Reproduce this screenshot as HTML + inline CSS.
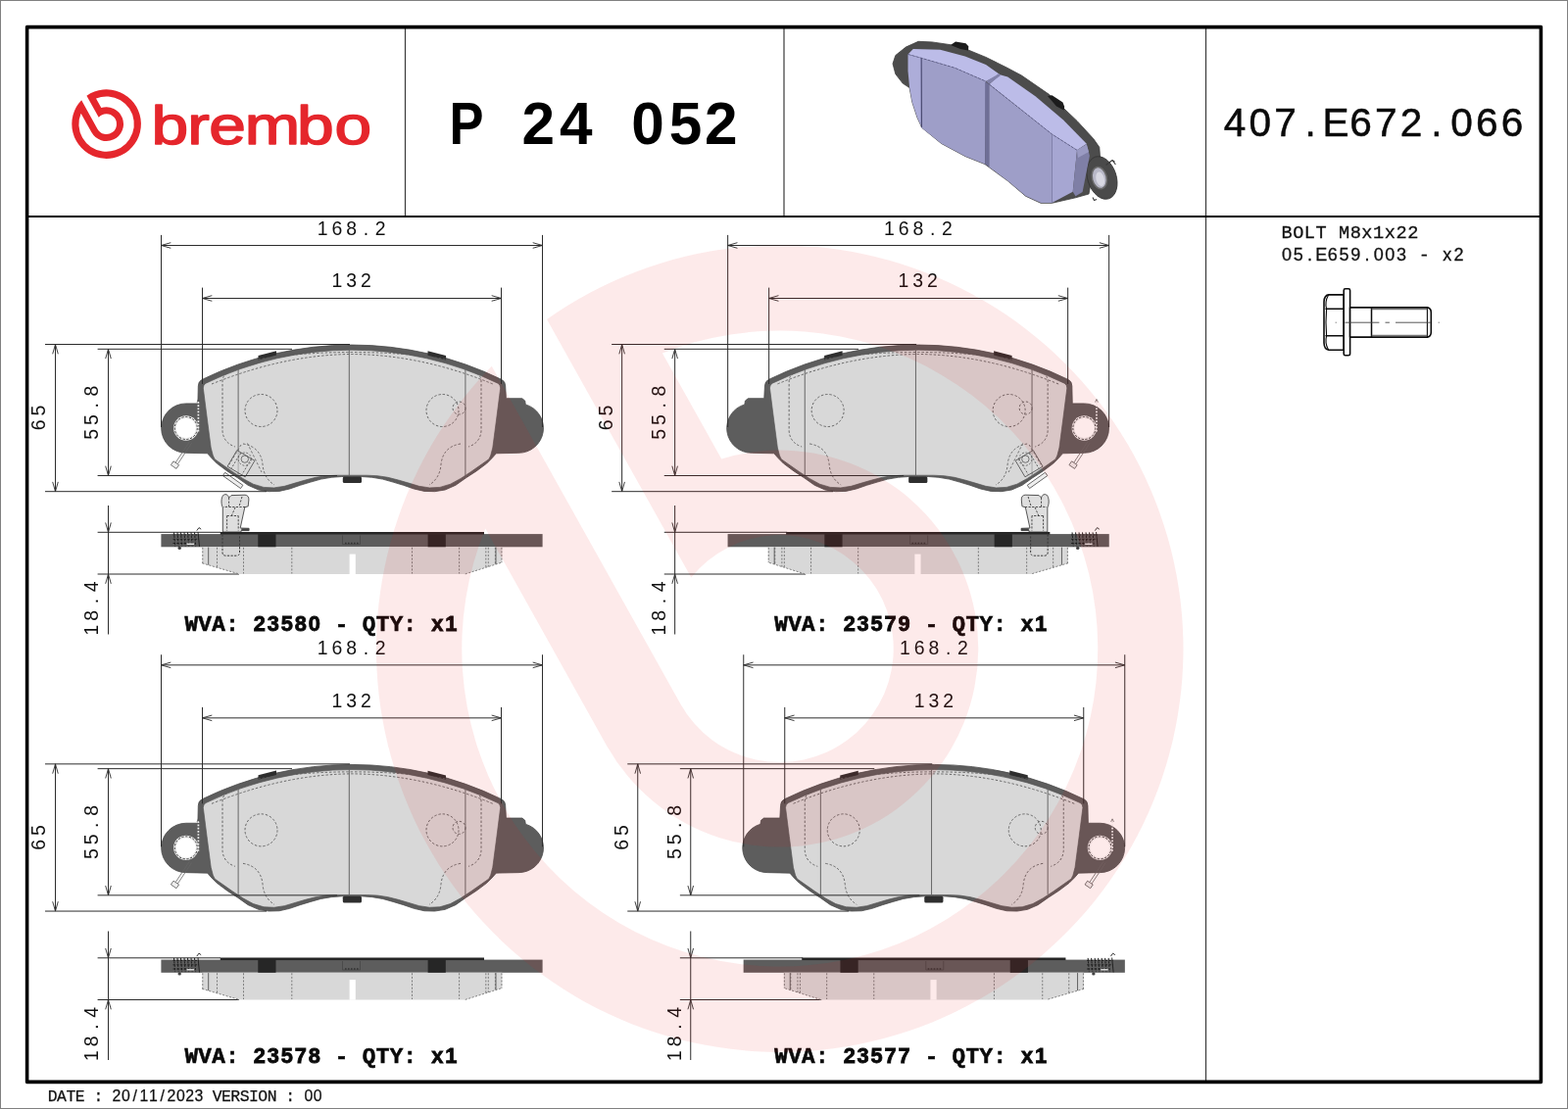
<!DOCTYPE html><html><head><meta charset="utf-8"><title>brembo P 24 052</title>
<style>html,body{margin:0;padding:0;background:#fff}svg{display:block}text{white-space:pre}</style></head><body>
<svg width="1600" height="1132" viewBox="0 0 1600 1132">
<rect x="0" y="0" width="1600" height="1132" fill="#fff"/>
<g id="hdr">
<path d="M83.15 102.14 A35.30 35.30 0 1 0 88.43 97.63 L100.72 119.81 A10.40 10.40 0 1 1 99.50 131.64 Z M82.62 115.63 A28.20 28.20 0 1 0 98.00 100.47 L103.30 110.03 A17.40 17.40 0 1 1 93.38 135.04 Z" fill="#e5262c" fill-rule="evenodd"/>
<text transform="translate(0 147) scale(1.22 1)" x="126.7 156.7 174.8 204.8 248.4 280" y="0" style="font-family:'Liberation Sans', 'DejaVu Sans', sans-serif;font-size:55.5px" fill="#e5262c" stroke="#e5262c" stroke-width="1.5" stroke-linejoin="round">brembo</text>
<text transform="translate(458.4 147.2) scale(0.87 1)" x="0" y="0" style="font-family:'Liberation Sans', 'DejaVu Sans', sans-serif;font-size:60.3px;font-weight:bold" fill="#000">P</text>
<text x="532.6 570.9 608 644.2 682.7 719.1" y="147.2" style="font-family:'Liberation Sans', 'DejaVu Sans', sans-serif;font-size:60.3px;font-weight:bold" fill="#000">24 052</text>
<text y="139.00" fill="#0a0a0a" stroke="#0a0a0a" stroke-width="0.5"><tspan x="1248.77 1274.49 1300.21 1331.58 1349.40 1377.37 1403.09 1428.81 1460.18 1480.25 1505.97 1531.69" style="font-family:'Liberation Sans', 'DejaVu Sans', sans-serif;font-size:40.60px;">407.E672.066</tspan></text>
<text y="243.10" fill="#111" stroke="#111" stroke-width="0.3"><tspan x="1307.47 1319.17 1330.87 1342.57 1354.27 1365.97 1377.67 1389.37 1401.07 1412.77 1424.47 1436.17" style="font-family:'Liberation Mono', 'DejaVu Sans Mono', monospace;font-size:18.60px;">BOLT M8x1x22</tspan></text>
<text y="266.30" fill="#111" stroke="#111" stroke-width="0.3"><tspan x="1308.04 1319.74 1333.95 1342.15 1354.84 1366.54 1378.24 1392.45 1401.64 1413.34 1425.04 1436.17" style="font-family:'Liberation Sans', 'DejaVu Sans', sans-serif;font-size:18.00px;">05.E659.003 </tspan><tspan x="1447.87 1459.57" style="font-family:'Liberation Mono', 'DejaVu Sans Mono', monospace;font-size:18.60px;">- </tspan><tspan x="1472.35 1483.54" style="font-family:'Liberation Sans', 'DejaVu Sans', sans-serif;font-size:18.00px;">x2</tspan></text>
<text y="1123.80" fill="#111" stroke="#111" stroke-width="0.25"><tspan x="48.74 58.07 67.40 76.73 86.06 95.39 104.72" style="font-family:'Liberation Mono', 'DejaVu Sans Mono', monospace;font-size:16.40px;">DATE : </tspan><tspan x="114.58 123.91 135.44 142.57 151.90 163.43 170.56 179.89 189.22 198.55 207.35" style="font-family:'Liberation Sans', 'DejaVu Sans', sans-serif;font-size:15.80px;">20/11/2023 </tspan><tspan x="216.68 226.01 235.34 244.67 254.00 263.33 272.66 281.99 291.32 300.65" style="font-family:'Liberation Mono', 'DejaVu Sans Mono', monospace;font-size:16.40px;">VERSION : </tspan><tspan x="310.51 319.84" style="font-family:'Liberation Sans', 'DejaVu Sans', sans-serif;font-size:15.80px;">00</tspan></text>
</g>
<g id="pad3d" stroke-linejoin="round">
<!-- back plate -->
<path d="M937.1 42.3 L951 42.9 L970 45.7 L988 51 L1006 58.4 L1027.3 69 L1042.4 77 L1070.7 96.5 L1099 123.4 L1115.9 141.8 L1121.8 150.3 L1122.5 160 L1117.5 163 L1111 198 L1097.5 201.8 L1073.5 207.3 L1062 207.3 L1046.6 200.2 L1028.3 184.6 L1005 167.6 L985 159.6 L960.6 146.5 L940.9 130.5 L936 120 L930.8 104.2 L928.1 89.6 L921.2 85.1 L913.8 75.6 L911 65 L913.8 56.5 L924.4 48 Z" fill="#4c4c4c" stroke="#3d3d3d" stroke-width="0.8"/>
<!-- clips -->
<path d="M970 46 L975 42.6 L985.5 44.2 L988.3 47.2 L988 51.6 L980 50 Z" fill="#1c1c1c"/>
<path d="M1069 98 L1073.5 97.3 L1084.5 104.5 L1086.2 109 L1085.6 112.6 L1078 108.5 Z" fill="#1c1c1c"/>
<!-- ear ring -->
<ellipse cx="1124.5" cy="181.5" rx="14.6" ry="22.4" transform="rotate(-18 1124.5 181.5)" fill="#4a4a4a" stroke="#333" stroke-width="0.8"/>
<ellipse cx="1121.8" cy="181.6" rx="7.4" ry="11.2" transform="rotate(-14 1121.8 181.6)" fill="#b9b9c8" stroke="#6a6a6a" stroke-width="1.6"/>
<ellipse cx="1122.6" cy="182.8" rx="4.2" ry="7.4" transform="rotate(-14 1122.6 182.6)" fill="#d8d8e2"/>
<path d="M1128.5 168.5 L1135 163.5 L1137.5 165.2 M1135 163.5 L1138.4 168 M1115 201.5 L1116.5 204.5 L1119 203.4" fill="none" stroke="#3a3a3a" stroke-width="1.1"/>
<!-- top faces -->
<path d="M926.5 55.4 L931.8 50.1 L959.4 50.7 L984.8 57.6 L1006 66 L1020.4 76.2 L1006 83 L974.2 69.2 L940.1 59.2 Z" fill="#bcbce8"/>
<path d="M1009.5 86 L1020.4 76.2 L1028.3 78.4 L1056.5 98.2 L1084.8 122.2 L1108.8 146.8 L1099 153.3 L1073.5 137 Z" fill="#bcbce8"/>
<!-- left chamfer face -->
<path d="M926.5 55.4 L940.1 59.2 L940.1 129 L936 120 L930.8 104.2 L928.1 89.4 L926.5 72.4 Z" fill="#adadd9"/>
<!-- front faces -->
<path d="M940.1 59.2 L974.2 69.2 L1006 83 L1005.2 167.6 L985 159.6 L960.6 146.5 L940.5 130.4 Z" fill="#9e9ec8"/>
<path d="M1009.2 86 L1073.5 137 L1073.5 207 L1062.2 207 L1046.6 200 L1028.3 184.4 L1009.2 170.4 Z" fill="#9e9ec8"/>
<!-- groove -->
<path d="M1005.2 83.2 L1009.4 86 L1009.4 170.4 L1005.2 167.6 Z" fill="#6f6f96"/>
<path d="M1006 83 L1019 75.3 L1021 77 L1009.4 85.8 Z" fill="#8282aa"/>
<!-- right chamfer + side -->
<path d="M1073.5 137 L1099 153.3 L1094.7 195.7 L1073.5 207 Z" fill="#a6a6d2"/>
<path d="M1099 153.3 L1108.8 147.2 L1111.9 159 L1104.6 195.9 L1097.5 200.2 L1094.7 195.7 Z" fill="#7f7fa6"/>
<path d="M1099 153.3 L1108.8 147.2 L1111 155 L1100 161 Z" fill="#9a9ac2"/>
<!-- edges -->
<path d="M940.1 59.2 L940.3 130" fill="none" stroke="#3c3c66" stroke-width="1"/>
<path d="M926.5 55.4 L940.1 59.2 L974.2 69.2 L1006 83 M1009.4 86 L1073.5 137 L1099 153.3" fill="none" stroke="#4c4c78" stroke-width="0.7" stroke-dasharray="3 1.2"/>
<path d="M1073.5 137 L1073.5 207" fill="none" stroke="#7c7ca8" stroke-width="0.7"/>
</g>

<g id="bolt" fill="#fff" stroke="#0c0c0c" stroke-width="1.6" stroke-linejoin="round" stroke-linecap="round">
<path d="M1351 308 Q1351.3 301.2 1356 300.9 L1371.2 300.9 L1371.2 357.2 L1356 357.2 Q1351.3 356.9 1351 350 Z"/>
<path d="M1353 315.2 L1371.2 315.2 M1353 342.8 L1371.2 342.8" fill="none" stroke-width="1.5"/>
<path d="M1355.5 301.2 Q1351.6 308 1353.6 315.2 Q1352.4 329 1353.6 342.8 Q1351.6 350 1355.5 356.9" fill="none" stroke-width="1.1"/>
<rect x="1371.2" y="294.8" width="6.4" height="68" rx="1.6"/>
<path d="M1377.6 313.9 L1456.6 313.9 Q1460.3 314.6 1460.3 319 L1460.3 339 Q1460.3 343.4 1456.6 344.1 L1377.6 344.1 Z"/>
<path d="M1399.5 313.9 L1399.5 344.1" fill="none" stroke-width="1.5"/>
<path d="M1456.4 314.4 L1456.4 343.6" fill="none" stroke-width="1.1"/>
<path d="M1400 315.7 L1456 315.7 M1400 342.3 L1456 342.3" fill="none" stroke="#555" stroke-width="1"/>
<path d="M1362.7 329.2 L1363.7 329.2 M1372.4 329.2 L1407.4 329.2 M1413.5 329.2 L1417.9 329.2 M1424 329.2 L1459.9 329.2 M1467.7 329.2 L1468.7 329.2" fill="none" stroke="#444" stroke-width="0.9" stroke-linecap="butt"/>
</g>
<g transform="translate(0.00 0.00)"><path d="M202.3 394 Q202.3 389.3 206.2 387.4 A348 348 0 0 1 511.80 387.4 Q515.70 389.3 515.70 394 L516.4 406.7 L532.8 406.7 L535.7 409 L536.3 412.9 A25.2 25.2 0 0 1 528.9 462.3 L506.30 462.80 L502.10 467.60 L496.70 473.00 L486.10 480.90 L475.50 487.80 L464.90 495.30 L454.20 500.00 L443.60 501.70 L433.00 501.40 L422.40 499.00 L411.70 495.30 L401.10 492.10 L390.50 489.10 L379.80 487.30 L369.20 486.50 L359.00 486.40 L359.00 486.40 L348.80 486.50 L338.20 487.30 L327.50 489.10 L316.90 492.10 L306.30 495.30 L295.60 499.00 L285.00 501.40 L274.40 501.70 L263.80 500.00 L253.10 495.30 L242.50 487.80 L231.90 480.90 L221.30 473.00 L215.90 467.60 L211.70 462.80 L189.8 462.3 A25.2 25.2 0 0 1 189.8 411.9 L201.9 411.9 Z" fill="#5d5d5d" stroke="#4a4a4a" stroke-width="0.8"/><path d="M263.5 363.0 L282.0 358.2 L282.0 362.6 L263.5 367.4 Z" fill="#2e2e2e"/><path d="M436.5 358.3 L455.0 363.1 L455.0 367.5 L436.5 362.7 Z" fill="#2e2e2e"/><rect x="349.8" y="486.5" width="19.2" height="6.6" rx="1.5" fill="#2e2e2e"/><path d="M207.3 396 Q207.3 392.6 210 391.2 A343.5 343.5 0 0 1 508.00 391.2 Q510.70 392.6 510.70 396 L507.00 425.00 L502.80 457.00 L500.70 465.00 L498.90 468.70 L491.40 474.00 L480.80 481.40 L470.20 488.40 L459.60 494.20 L448.90 497.40 L438.30 497.90 L427.70 496.30 L417.00 493.10 L406.40 490.00 L395.80 487.30 L385.20 485.70 L374.50 485.20 L359.00 485.20 L359.00 485.20 L343.50 485.20 L332.80 485.70 L322.20 487.30 L311.60 490.00 L301.00 493.10 L290.30 496.30 L279.70 497.90 L269.10 497.40 L258.40 494.20 L247.80 488.40 L237.20 481.40 L226.60 474.00 L219.10 468.70 L217.30 465.00 L215.20 457.00 L211.00 425.00 Z" fill="#d8d8d8" stroke="#555" stroke-width="0.7"/><circle cx="189.8" cy="437" r="12.7" fill="#e9e9e9"/><circle cx="189.8" cy="437" r="10.1" fill="#fff"/><circle cx="189.8" cy="437" r="11.5" fill="none" stroke="#3c3c3c" stroke-width="1" stroke-dasharray="2.2 1.6"/><line x1="243.1" y1="376.0" x2="243.1" y2="484.5" stroke="#666" stroke-width="1.0"/><line x1="474.9" y1="376.0" x2="474.9" y2="485.5" stroke="#666" stroke-width="1.0"/><circle cx="266.5" cy="419" r="16.5" fill="none" stroke="#5a5a5a" stroke-width="0.9" stroke-dasharray="2.4 1.9"/><circle cx="451.5" cy="419" r="16.5" fill="none" stroke="#5a5a5a" stroke-width="0.9" stroke-dasharray="2.4 1.9"/><path d="M232 381 Q227 383 227 390 L227 440 Q228 452 240 456" fill="none" stroke="#5a5a5a" stroke-width="0.9" stroke-dasharray="2.4 1.9"/><path d="M486.0 381 Q491.0 383 491.0 390 L491.0 440 Q490.0 452 478.0 456" fill="none" stroke="#5a5a5a" stroke-width="0.9" stroke-dasharray="2.4 1.9"/><path d="M216 392 Q290 362 359 361.5 Q430 362 503 392" fill="none" stroke="#5a5a5a" stroke-width="0.9" stroke-dasharray="2.4 1.9"/><path d="M262 371 L264 366.5 Q310 359.5 359 359.5 Q410 359.5 455 366.5 L457 371" fill="none" stroke="#5a5a5a" stroke-width="0.9" stroke-dasharray="2.4 1.9"/><path d="M470 453 Q452 456 450 474 Q449 488 438 495" fill="none" stroke="#5a5a5a" stroke-width="0.9" stroke-dasharray="2.4 1.9"/><path d="M248 453 Q266 456 268 474 Q269 488 280 495" fill="none" stroke="#5a5a5a" stroke-width="0.9" stroke-dasharray="2.4 1.9"/><g transform="translate(246 473.2) rotate(30.5)"><rect x="-10.5" y="-9.6" width="21" height="19.2" fill="#dcdcdc" fill-opacity="0.55" stroke="#555" stroke-width="0.8"/><path d="M-6 -9.6 L-6 9.6 M6.5 -9.6 L6.5 9.6" fill="none" stroke="#555" stroke-width="0.8" stroke-dasharray="2 1.6"/></g><circle cx="249.8" cy="468.6" r="3.7" fill="none" stroke="#555" stroke-width="0.8"/><circle cx="249.8" cy="468.6" r="6.6" fill="none" stroke="#555" stroke-width="0.8" stroke-dasharray="2 1.6"/><g transform="translate(237.6 490.4) rotate(35.5)"><rect x="-11.2" y="-2" width="22.4" height="4" fill="#eee" stroke="#555" stroke-width="0.8"/></g><path d="M252.5 452.5 L267 482 M246 454 L234 474" fill="none" stroke="#555" stroke-width="0.8" stroke-dasharray="2.4 2"/><circle cx="468.5" cy="416.5" r="6.5" fill="none" stroke="#5a5a5a" stroke-width="0.9" stroke-dasharray="2.4 1.9"/><g transform="translate(189.80 437.00)"><path d="M3.6 13.8 L-10.6 35.2 M5.8 15.2 L-8.4 36.6" stroke="#666" stroke-width="0.8" fill="none"/><path d="M-12.8 33.8 L-7.2 37.6 L-9.8 41.4 L-15.4 37.6 Z" fill="#eee" stroke="#555" stroke-width="0.8"/><path d="M12.6 -27 L12.6 4" stroke="#f0f0f0" stroke-width="1.7" stroke-dasharray="1.7 1.5" fill="none"/><path d="M11.2 -26.5 L12.6 -29.5 L14 -26.5" stroke="#555" stroke-width="0.7" fill="none"/></g><line x1="356.30" y1="356.50" x2="356.30" y2="485.30" stroke="#666" stroke-width="1.00"/><line x1="164.50" y1="239.90" x2="164.50" y2="436.00" stroke="#2c2c2c" stroke-width="1.00"/><line x1="553.50" y1="239.90" x2="553.50" y2="436.00" stroke="#2c2c2c" stroke-width="1.00"/><line x1="164.50" y1="250.50" x2="553.50" y2="250.50" stroke="#2c2c2c" stroke-width="1.00"/><path transform="translate(164.50 250.50) rotate(180.0)" d="M-9.8 -2.8 L0 0 L-9.8 2.8" fill="none" stroke="#2c2c2c" stroke-width="0.9"/><path transform="translate(553.50 250.50) rotate(0.0)" d="M-9.8 -2.8 L0 0 L-9.8 2.8" fill="none" stroke="#2c2c2c" stroke-width="0.9"/><text y="240.00" fill="#111" ><tspan x="323.80 338.55 353.30 370.76 382.80" style="font-family:'Liberation Sans', 'DejaVu Sans', sans-serif;font-size:19.40px;">168.2</tspan></text><line x1="206.50" y1="293.60" x2="206.50" y2="392.00" stroke="#2c2c2c" stroke-width="1.00"/><line x1="511.50" y1="293.60" x2="511.50" y2="392.00" stroke="#2c2c2c" stroke-width="1.00"/><line x1="206.50" y1="304.50" x2="511.50" y2="304.50" stroke="#2c2c2c" stroke-width="1.00"/><path transform="translate(206.50 304.50) rotate(180.0)" d="M-9.8 -2.8 L0 0 L-9.8 2.8" fill="none" stroke="#2c2c2c" stroke-width="0.9"/><path transform="translate(511.50 304.50) rotate(0.0)" d="M-9.8 -2.8 L0 0 L-9.8 2.8" fill="none" stroke="#2c2c2c" stroke-width="0.9"/><text y="293.40" fill="#111" ><tspan x="338.45 353.20 367.95" style="font-family:'Liberation Sans', 'DejaVu Sans', sans-serif;font-size:19.40px;">132</tspan></text><line x1="46.00" y1="351.50" x2="357.00" y2="351.50" stroke="#2c2c2c" stroke-width="1.00"/><line x1="46.00" y1="501.70" x2="272.00" y2="501.70" stroke="#2c2c2c" stroke-width="1.00"/><line x1="56.50" y1="351.50" x2="56.50" y2="501.70" stroke="#2c2c2c" stroke-width="1.00"/><path transform="translate(56.50 351.50) rotate(-90.0)" d="M-9.8 -2.8 L0 0 L-9.8 2.8" fill="none" stroke="#2c2c2c" stroke-width="0.9"/><path transform="translate(56.50 501.70) rotate(90.0)" d="M-9.8 -2.8 L0 0 L-9.8 2.8" fill="none" stroke="#2c2c2c" stroke-width="0.9"/><text y="0.00" fill="#111" transform="translate(46.40 424.60) rotate(-90)" ><tspan x="-14.77 -0.02" style="font-family:'Liberation Sans', 'DejaVu Sans', sans-serif;font-size:19.40px;">65</tspan></text><line x1="99.60" y1="356.30" x2="298.00" y2="356.30" stroke="#2c2c2c" stroke-width="1.00"/><line x1="99.60" y1="485.50" x2="344.00" y2="485.50" stroke="#2c2c2c" stroke-width="1.00"/><line x1="110.50" y1="356.30" x2="110.50" y2="485.50" stroke="#2c2c2c" stroke-width="1.00"/><path transform="translate(110.50 356.30) rotate(-90.0)" d="M-9.8 -2.8 L0 0 L-9.8 2.8" fill="none" stroke="#2c2c2c" stroke-width="0.9"/><path transform="translate(110.50 485.50) rotate(90.0)" d="M-9.8 -2.8 L0 0 L-9.8 2.8" fill="none" stroke="#2c2c2c" stroke-width="0.9"/><text y="0.00" fill="#111" transform="translate(100.40 419.20) rotate(-90)" ><tspan x="-29.52 -14.77 2.68 14.73" style="font-family:'Liberation Sans', 'DejaVu Sans', sans-serif;font-size:19.40px;">55.8</tspan></text></g><g transform="translate(0.00 0.00)"><line x1="99.60" y1="543.30" x2="225.00" y2="543.30" stroke="#2c2c2c" stroke-width="1.00"/><line x1="99.60" y1="586.00" x2="244.00" y2="586.00" stroke="#2c2c2c" stroke-width="1.00"/><line x1="110.50" y1="516.00" x2="110.50" y2="647.50" stroke="#2c2c2c" stroke-width="1.00"/><path transform="translate(110.50 543.30) rotate(90.0)" d="M-9.8 -2.8 L0 0 L-9.8 2.8" fill="none" stroke="#2c2c2c" stroke-width="0.9"/><path transform="translate(110.50 586.00) rotate(-90.0)" d="M-9.8 -2.8 L0 0 L-9.8 2.8" fill="none" stroke="#2c2c2c" stroke-width="0.9"/><text y="0.00" fill="#111" transform="translate(100.40 619.00) rotate(-90)" ><tspan x="-29.52 -14.77 2.68 14.73" style="font-family:'Liberation Sans', 'DejaVu Sans', sans-serif;font-size:19.40px;">18.4</tspan></text><path d="M227.3 543 L227.3 518 C225 514 225.6 504.6 229.8 504.6 C232 504.6 233 506 233.6 508 L236 505.6 L250 505.2 Q254 505.6 253.9 510 L253.2 516.8 L249.8 517.8 L245.2 539 L254 539.3 L254 541.6 L246 541.6 L246 543 Z" fill="#dedede" stroke="#444" stroke-width="0.9" stroke-linejoin="round"/><path d="M233.6 508 L233.6 517.2 L228 517.6 M233.6 517.5 L250 517.5 M231.6 526.5 L243.2 526.5 M243.2 526.5 L243.2 541.5 M231.6 526.5 L231.6 541.5 M247 507 L244 517 M240 518 L236.5 526" fill="none" stroke="#3a3a3a" stroke-width="0.9" stroke-dasharray="2.2 1.4"/><rect x="246.3" y="539.3" width="7.9" height="2.4" fill="#444"/><rect x="164.4" y="545.1" width="389.2" height="13.2" fill="#5d5d5d"/><rect x="224.8" y="543" width="269.2" height="2.6" fill="#262626"/><path d="M206.4 558.3 L206.4 574.9 L244 585.9 L474.8 585.9 L512.4 574 L512.4 558.3 Z" fill="#d8d8d8"/><rect x="356.6" y="565.6" width="6.2" height="20.6" fill="#fff"/><path d="M227 545.5 L227 564 Q227 567.2 230.5 567.2 L241 567.2 Q244.5 567.2 244.5 564 L244.5 545.5" fill="none" stroke="#3a3a3a" stroke-width="1" stroke-dasharray="2.2 1.4"/><rect x="263.3" y="545.1" width="18.2" height="13.2" fill="#262626"/><rect x="436.6" y="545.1" width="18.2" height="13.2" fill="#262626"/><line x1="206.8" y1="558.8" x2="206.8" y2="575.0" stroke="#666" stroke-width="0.8" stroke-dasharray="2 1.6" fill="none"/><line x1="221.5" y1="558.8" x2="221.5" y2="579.2" stroke="#666" stroke-width="0.8" stroke-dasharray="2 1.6" fill="none"/><line x1="248.5" y1="558.8" x2="248.5" y2="585.5" stroke="#666" stroke-width="0.8" stroke-dasharray="2 1.6" fill="none"/><line x1="297.8" y1="558.8" x2="297.8" y2="585.5" stroke="#666" stroke-width="0.8" stroke-dasharray="2 1.6" fill="none"/><line x1="420.5" y1="558.8" x2="420.5" y2="585.5" stroke="#666" stroke-width="0.8" stroke-dasharray="2 1.6" fill="none"/><line x1="468.6" y1="558.8" x2="468.6" y2="585.5" stroke="#666" stroke-width="0.8" stroke-dasharray="2 1.6" fill="none"/><line x1="495.8" y1="558.8" x2="495.8" y2="579.2" stroke="#666" stroke-width="0.8" stroke-dasharray="2 1.6" fill="none"/><line x1="498.3" y1="558.8" x2="498.3" y2="578.5" stroke="#666" stroke-width="0.8" stroke-dasharray="2 1.6" fill="none"/><line x1="505.4" y1="558.8" x2="505.4" y2="576.3" stroke="#666" stroke-width="0.8" stroke-dasharray="2 1.6" fill="none"/><line x1="511.9" y1="558.8" x2="511.9" y2="574.2" stroke="#666" stroke-width="0.8" stroke-dasharray="2 1.6" fill="none"/><path d="M206.4 574.9 L244 585.9 M474.8 585.9 L512.4 574" stroke="#666" stroke-width="0.8" stroke-dasharray="2 1.6" fill="none"/><path d="M212.7 558.6 L212.7 576.6 M506 558.6 L506 576" stroke="#555" stroke-width="0.9" fill="none"/><path d="M349.5 546.5 L349.5 555.5 L367.5 555.5 L367.5 546.5" fill="none" stroke="#444" stroke-width="0.7"/><path d="M352 554.5 L366 554.5" stroke="#333" stroke-width="1.4" stroke-dasharray="1.6 1.4"/><g transform="translate(0.00 0)"><g stroke="#1c1c1c" stroke-width="1" fill="none"><path d="M177.5 543.4 L178.7 557.6" stroke-dasharray="2.2 1.2"/><path d="M181.0 543.4 L182.2 557.6" stroke-dasharray="2.2 1.2"/><path d="M184.5 543.4 L185.7 557.6" stroke-dasharray="2.2 1.2"/><path d="M188.0 543.4 L189.2 557.6" stroke-dasharray="2.2 1.2"/><path d="M191.5 543.4 L192.7 557.6" stroke-dasharray="2.2 1.2"/><path d="M195.0 543.4 L196.2 557.6" stroke-dasharray="2.2 1.2"/><path d="M198.5 543.4 L199.7 557.6" stroke-dasharray="2.2 1.2"/><path d="M176.5 546 L203 546 M176.5 550.3 L203 550.3 M176.5 554.5 L190 554.5" stroke-dasharray="2.4 1.3" stroke-width="0.9"/><circle cx="183.2" cy="559.4" r="1.7" fill="#444" stroke="none"/><path d="M200.8 541.6 L203 538.6 L205.2 540.2 M202 543 L203.5 558" stroke-width="0.9"/></g><path d="M190.6 555.3 L198 555.3" stroke="#e4e4e4" stroke-width="1.4" fill="none"/></g></g><text y="643.60" fill="#0a0a0a" ><tspan x="188.39 202.34 216.29 230.24 244.19" stroke="#0a0a0a" stroke-width="0.60" style="font-family:'Liberation Mono', 'DejaVu Sans Mono', monospace;font-size:22.60px;font-weight:bold;">WVA: </tspan><tspan x="258.86 272.81 286.76 300.71 314.66 327.89" stroke="#0a0a0a" stroke-width="0.80" style="font-family:'Liberation Sans', 'DejaVu Sans', sans-serif;font-size:21.80px;font-weight:bold;">23580 </tspan><tspan x="341.84 355.79 369.74 383.69 397.64 411.59 425.54" stroke="#0a0a0a" stroke-width="0.60" style="font-family:'Liberation Mono', 'DejaVu Sans Mono', monospace;font-size:22.60px;font-weight:bold;">- QTY: </tspan><tspan x="440.21 454.16" stroke="#0a0a0a" stroke-width="0.80" style="font-family:'Liberation Sans', 'DejaVu Sans', sans-serif;font-size:21.80px;font-weight:bold;">x1</tspan></text>
<g transform="translate(578.15 0.00)"><g transform="translate(718.00 0) scale(-1 1)"><path d="M202.3 394 Q202.3 389.3 206.2 387.4 A348 348 0 0 1 511.80 387.4 Q515.70 389.3 515.70 394 L516.4 406.7 L532.8 406.7 L535.7 409 L536.3 412.9 A25.2 25.2 0 0 1 528.9 462.3 L506.30 462.80 L502.10 467.60 L496.70 473.00 L486.10 480.90 L475.50 487.80 L464.90 495.30 L454.20 500.00 L443.60 501.70 L433.00 501.40 L422.40 499.00 L411.70 495.30 L401.10 492.10 L390.50 489.10 L379.80 487.30 L369.20 486.50 L359.00 486.40 L359.00 486.40 L348.80 486.50 L338.20 487.30 L327.50 489.10 L316.90 492.10 L306.30 495.30 L295.60 499.00 L285.00 501.40 L274.40 501.70 L263.80 500.00 L253.10 495.30 L242.50 487.80 L231.90 480.90 L221.30 473.00 L215.90 467.60 L211.70 462.80 L189.8 462.3 A25.2 25.2 0 0 1 189.8 411.9 L201.9 411.9 Z" fill="#5d5d5d" stroke="#4a4a4a" stroke-width="0.8"/><path d="M263.5 363.0 L282.0 358.2 L282.0 362.6 L263.5 367.4 Z" fill="#2e2e2e"/><path d="M436.5 358.3 L455.0 363.1 L455.0 367.5 L436.5 362.7 Z" fill="#2e2e2e"/><rect x="349.8" y="486.5" width="19.2" height="6.6" rx="1.5" fill="#2e2e2e"/><path d="M207.3 396 Q207.3 392.6 210 391.2 A343.5 343.5 0 0 1 508.00 391.2 Q510.70 392.6 510.70 396 L507.00 425.00 L502.80 457.00 L500.70 465.00 L498.90 468.70 L491.40 474.00 L480.80 481.40 L470.20 488.40 L459.60 494.20 L448.90 497.40 L438.30 497.90 L427.70 496.30 L417.00 493.10 L406.40 490.00 L395.80 487.30 L385.20 485.70 L374.50 485.20 L359.00 485.20 L359.00 485.20 L343.50 485.20 L332.80 485.70 L322.20 487.30 L311.60 490.00 L301.00 493.10 L290.30 496.30 L279.70 497.90 L269.10 497.40 L258.40 494.20 L247.80 488.40 L237.20 481.40 L226.60 474.00 L219.10 468.70 L217.30 465.00 L215.20 457.00 L211.00 425.00 Z" fill="#d8d8d8" stroke="#555" stroke-width="0.7"/><circle cx="189.8" cy="437" r="12.7" fill="#e9e9e9"/><circle cx="189.8" cy="437" r="10.1" fill="#fff"/><circle cx="189.8" cy="437" r="11.5" fill="none" stroke="#3c3c3c" stroke-width="1" stroke-dasharray="2.2 1.6"/><line x1="243.1" y1="376.0" x2="243.1" y2="484.5" stroke="#666" stroke-width="1.0"/><line x1="474.9" y1="376.0" x2="474.9" y2="485.5" stroke="#666" stroke-width="1.0"/><circle cx="266.5" cy="419" r="16.5" fill="none" stroke="#5a5a5a" stroke-width="0.9" stroke-dasharray="2.4 1.9"/><circle cx="451.5" cy="419" r="16.5" fill="none" stroke="#5a5a5a" stroke-width="0.9" stroke-dasharray="2.4 1.9"/><path d="M232 381 Q227 383 227 390 L227 440 Q228 452 240 456" fill="none" stroke="#5a5a5a" stroke-width="0.9" stroke-dasharray="2.4 1.9"/><path d="M486.0 381 Q491.0 383 491.0 390 L491.0 440 Q490.0 452 478.0 456" fill="none" stroke="#5a5a5a" stroke-width="0.9" stroke-dasharray="2.4 1.9"/><path d="M216 392 Q290 362 359 361.5 Q430 362 503 392" fill="none" stroke="#5a5a5a" stroke-width="0.9" stroke-dasharray="2.4 1.9"/><path d="M262 371 L264 366.5 Q310 359.5 359 359.5 Q410 359.5 455 366.5 L457 371" fill="none" stroke="#5a5a5a" stroke-width="0.9" stroke-dasharray="2.4 1.9"/><path d="M470 453 Q452 456 450 474 Q449 488 438 495" fill="none" stroke="#5a5a5a" stroke-width="0.9" stroke-dasharray="2.4 1.9"/><path d="M248 453 Q266 456 268 474 Q269 488 280 495" fill="none" stroke="#5a5a5a" stroke-width="0.9" stroke-dasharray="2.4 1.9"/><g transform="translate(246 473.2) rotate(30.5)"><rect x="-10.5" y="-9.6" width="21" height="19.2" fill="#dcdcdc" fill-opacity="0.55" stroke="#555" stroke-width="0.8"/><path d="M-6 -9.6 L-6 9.6 M6.5 -9.6 L6.5 9.6" fill="none" stroke="#555" stroke-width="0.8" stroke-dasharray="2 1.6"/></g><circle cx="249.8" cy="468.6" r="3.7" fill="none" stroke="#555" stroke-width="0.8"/><circle cx="249.8" cy="468.6" r="6.6" fill="none" stroke="#555" stroke-width="0.8" stroke-dasharray="2 1.6"/><g transform="translate(237.6 490.4) rotate(35.5)"><rect x="-11.2" y="-2" width="22.4" height="4" fill="#eee" stroke="#555" stroke-width="0.8"/></g><path d="M252.5 452.5 L267 482 M246 454 L234 474" fill="none" stroke="#555" stroke-width="0.8" stroke-dasharray="2.4 2"/></g><circle cx="468.5" cy="416.5" r="6.5" fill="none" stroke="#5a5a5a" stroke-width="0.9" stroke-dasharray="2.4 1.9"/><g transform="translate(528.20 437.00)"><path d="M3.6 13.8 L-10.6 35.2 M5.8 15.2 L-8.4 36.6" stroke="#666" stroke-width="0.8" fill="none"/><path d="M-12.8 33.8 L-7.2 37.6 L-9.8 41.4 L-15.4 37.6 Z" fill="#eee" stroke="#555" stroke-width="0.8"/><path d="M12.6 -27 L12.6 4" stroke="#f0f0f0" stroke-width="1.7" stroke-dasharray="1.7 1.5" fill="none"/><path d="M11.2 -26.5 L12.6 -29.5 L14 -26.5" stroke="#555" stroke-width="0.7" fill="none"/></g><line x1="356.30" y1="356.50" x2="356.30" y2="485.30" stroke="#666" stroke-width="1.00"/><line x1="164.50" y1="239.90" x2="164.50" y2="436.00" stroke="#2c2c2c" stroke-width="1.00"/><line x1="553.50" y1="239.90" x2="553.50" y2="436.00" stroke="#2c2c2c" stroke-width="1.00"/><line x1="164.50" y1="250.50" x2="553.50" y2="250.50" stroke="#2c2c2c" stroke-width="1.00"/><path transform="translate(164.50 250.50) rotate(180.0)" d="M-9.8 -2.8 L0 0 L-9.8 2.8" fill="none" stroke="#2c2c2c" stroke-width="0.9"/><path transform="translate(553.50 250.50) rotate(0.0)" d="M-9.8 -2.8 L0 0 L-9.8 2.8" fill="none" stroke="#2c2c2c" stroke-width="0.9"/><text y="240.00" fill="#111" ><tspan x="323.80 338.55 353.30 370.76 382.80" style="font-family:'Liberation Sans', 'DejaVu Sans', sans-serif;font-size:19.40px;">168.2</tspan></text><line x1="206.50" y1="293.60" x2="206.50" y2="392.00" stroke="#2c2c2c" stroke-width="1.00"/><line x1="511.50" y1="293.60" x2="511.50" y2="392.00" stroke="#2c2c2c" stroke-width="1.00"/><line x1="206.50" y1="304.50" x2="511.50" y2="304.50" stroke="#2c2c2c" stroke-width="1.00"/><path transform="translate(206.50 304.50) rotate(180.0)" d="M-9.8 -2.8 L0 0 L-9.8 2.8" fill="none" stroke="#2c2c2c" stroke-width="0.9"/><path transform="translate(511.50 304.50) rotate(0.0)" d="M-9.8 -2.8 L0 0 L-9.8 2.8" fill="none" stroke="#2c2c2c" stroke-width="0.9"/><text y="293.40" fill="#111" ><tspan x="338.45 353.20 367.95" style="font-family:'Liberation Sans', 'DejaVu Sans', sans-serif;font-size:19.40px;">132</tspan></text><line x1="46.00" y1="351.50" x2="357.00" y2="351.50" stroke="#2c2c2c" stroke-width="1.00"/><line x1="46.00" y1="501.70" x2="272.00" y2="501.70" stroke="#2c2c2c" stroke-width="1.00"/><line x1="56.50" y1="351.50" x2="56.50" y2="501.70" stroke="#2c2c2c" stroke-width="1.00"/><path transform="translate(56.50 351.50) rotate(-90.0)" d="M-9.8 -2.8 L0 0 L-9.8 2.8" fill="none" stroke="#2c2c2c" stroke-width="0.9"/><path transform="translate(56.50 501.70) rotate(90.0)" d="M-9.8 -2.8 L0 0 L-9.8 2.8" fill="none" stroke="#2c2c2c" stroke-width="0.9"/><text y="0.00" fill="#111" transform="translate(46.40 424.60) rotate(-90)" ><tspan x="-14.77 -0.02" style="font-family:'Liberation Sans', 'DejaVu Sans', sans-serif;font-size:19.40px;">65</tspan></text><line x1="99.60" y1="356.30" x2="298.00" y2="356.30" stroke="#2c2c2c" stroke-width="1.00"/><line x1="99.60" y1="485.50" x2="344.00" y2="485.50" stroke="#2c2c2c" stroke-width="1.00"/><line x1="110.50" y1="356.30" x2="110.50" y2="485.50" stroke="#2c2c2c" stroke-width="1.00"/><path transform="translate(110.50 356.30) rotate(-90.0)" d="M-9.8 -2.8 L0 0 L-9.8 2.8" fill="none" stroke="#2c2c2c" stroke-width="0.9"/><path transform="translate(110.50 485.50) rotate(90.0)" d="M-9.8 -2.8 L0 0 L-9.8 2.8" fill="none" stroke="#2c2c2c" stroke-width="0.9"/><text y="0.00" fill="#111" transform="translate(100.40 419.20) rotate(-90)" ><tspan x="-29.52 -14.77 2.68 14.73" style="font-family:'Liberation Sans', 'DejaVu Sans', sans-serif;font-size:19.40px;">55.8</tspan></text></g><g transform="translate(578.15 0.00)"><line x1="99.60" y1="543.30" x2="225.00" y2="543.30" stroke="#2c2c2c" stroke-width="1.00"/><line x1="99.60" y1="586.00" x2="244.00" y2="586.00" stroke="#2c2c2c" stroke-width="1.00"/><line x1="110.50" y1="516.00" x2="110.50" y2="647.50" stroke="#2c2c2c" stroke-width="1.00"/><path transform="translate(110.50 543.30) rotate(90.0)" d="M-9.8 -2.8 L0 0 L-9.8 2.8" fill="none" stroke="#2c2c2c" stroke-width="0.9"/><path transform="translate(110.50 586.00) rotate(-90.0)" d="M-9.8 -2.8 L0 0 L-9.8 2.8" fill="none" stroke="#2c2c2c" stroke-width="0.9"/><text y="0.00" fill="#111" transform="translate(100.40 619.00) rotate(-90)" ><tspan x="-29.52 -14.77 2.68 14.73" style="font-family:'Liberation Sans', 'DejaVu Sans', sans-serif;font-size:19.40px;">18.4</tspan></text><g transform="translate(718.00 0) scale(-1 1)"><path d="M227.3 543 L227.3 518 C225 514 225.6 504.6 229.8 504.6 C232 504.6 233 506 233.6 508 L236 505.6 L250 505.2 Q254 505.6 253.9 510 L253.2 516.8 L249.8 517.8 L245.2 539 L254 539.3 L254 541.6 L246 541.6 L246 543 Z" fill="#dedede" stroke="#444" stroke-width="0.9" stroke-linejoin="round"/><path d="M233.6 508 L233.6 517.2 L228 517.6 M233.6 517.5 L250 517.5 M231.6 526.5 L243.2 526.5 M243.2 526.5 L243.2 541.5 M231.6 526.5 L231.6 541.5 M247 507 L244 517 M240 518 L236.5 526" fill="none" stroke="#3a3a3a" stroke-width="0.9" stroke-dasharray="2.2 1.4"/><rect x="246.3" y="539.3" width="7.9" height="2.4" fill="#444"/><rect x="164.4" y="545.1" width="389.2" height="13.2" fill="#5d5d5d"/><rect x="224.8" y="543" width="269.2" height="2.6" fill="#262626"/><path d="M206.4 558.3 L206.4 574.9 L244 585.9 L474.8 585.9 L512.4 574 L512.4 558.3 Z" fill="#d8d8d8"/><rect x="356.6" y="565.6" width="6.2" height="20.6" fill="#fff"/><path d="M227 545.5 L227 564 Q227 567.2 230.5 567.2 L241 567.2 Q244.5 567.2 244.5 564 L244.5 545.5" fill="none" stroke="#3a3a3a" stroke-width="1" stroke-dasharray="2.2 1.4"/><rect x="263.3" y="545.1" width="18.2" height="13.2" fill="#262626"/><rect x="436.6" y="545.1" width="18.2" height="13.2" fill="#262626"/><line x1="206.8" y1="558.8" x2="206.8" y2="575.0" stroke="#666" stroke-width="0.8" stroke-dasharray="2 1.6" fill="none"/><line x1="221.5" y1="558.8" x2="221.5" y2="579.2" stroke="#666" stroke-width="0.8" stroke-dasharray="2 1.6" fill="none"/><line x1="248.5" y1="558.8" x2="248.5" y2="585.5" stroke="#666" stroke-width="0.8" stroke-dasharray="2 1.6" fill="none"/><line x1="297.8" y1="558.8" x2="297.8" y2="585.5" stroke="#666" stroke-width="0.8" stroke-dasharray="2 1.6" fill="none"/><line x1="420.5" y1="558.8" x2="420.5" y2="585.5" stroke="#666" stroke-width="0.8" stroke-dasharray="2 1.6" fill="none"/><line x1="468.6" y1="558.8" x2="468.6" y2="585.5" stroke="#666" stroke-width="0.8" stroke-dasharray="2 1.6" fill="none"/><line x1="495.8" y1="558.8" x2="495.8" y2="579.2" stroke="#666" stroke-width="0.8" stroke-dasharray="2 1.6" fill="none"/><line x1="498.3" y1="558.8" x2="498.3" y2="578.5" stroke="#666" stroke-width="0.8" stroke-dasharray="2 1.6" fill="none"/><line x1="505.4" y1="558.8" x2="505.4" y2="576.3" stroke="#666" stroke-width="0.8" stroke-dasharray="2 1.6" fill="none"/><line x1="511.9" y1="558.8" x2="511.9" y2="574.2" stroke="#666" stroke-width="0.8" stroke-dasharray="2 1.6" fill="none"/><path d="M206.4 574.9 L244 585.9 M474.8 585.9 L512.4 574" stroke="#666" stroke-width="0.8" stroke-dasharray="2 1.6" fill="none"/><path d="M212.7 558.6 L212.7 576.6 M506 558.6 L506 576" stroke="#555" stroke-width="0.9" fill="none"/><path d="M349.5 546.5 L349.5 555.5 L367.5 555.5 L367.5 546.5" fill="none" stroke="#444" stroke-width="0.7"/><path d="M352 554.5 L366 554.5" stroke="#333" stroke-width="1.4" stroke-dasharray="1.6 1.4"/></g><g transform="translate(338.40 0)"><g stroke="#1c1c1c" stroke-width="1" fill="none"><path d="M177.5 543.4 L178.7 557.6" stroke-dasharray="2.2 1.2"/><path d="M181.0 543.4 L182.2 557.6" stroke-dasharray="2.2 1.2"/><path d="M184.5 543.4 L185.7 557.6" stroke-dasharray="2.2 1.2"/><path d="M188.0 543.4 L189.2 557.6" stroke-dasharray="2.2 1.2"/><path d="M191.5 543.4 L192.7 557.6" stroke-dasharray="2.2 1.2"/><path d="M195.0 543.4 L196.2 557.6" stroke-dasharray="2.2 1.2"/><path d="M198.5 543.4 L199.7 557.6" stroke-dasharray="2.2 1.2"/><path d="M176.5 546 L203 546 M176.5 550.3 L203 550.3 M176.5 554.5 L190 554.5" stroke-dasharray="2.4 1.3" stroke-width="0.9"/><circle cx="183.2" cy="559.4" r="1.7" fill="#444" stroke="none"/><path d="M200.8 541.6 L203 538.6 L205.2 540.2 M202 543 L203.5 558" stroke-width="0.9"/></g><path d="M190.6 555.3 L198 555.3" stroke="#e4e4e4" stroke-width="1.4" fill="none"/></g></g><text y="643.60" fill="#0a0a0a" ><tspan x="790.19 804.14 818.09 832.04 845.99" stroke="#0a0a0a" stroke-width="0.60" style="font-family:'Liberation Mono', 'DejaVu Sans Mono', monospace;font-size:22.60px;font-weight:bold;">WVA: </tspan><tspan x="860.66 874.61 888.56 902.51 916.46 929.69" stroke="#0a0a0a" stroke-width="0.80" style="font-family:'Liberation Sans', 'DejaVu Sans', sans-serif;font-size:21.80px;font-weight:bold;">23579 </tspan><tspan x="943.64 957.59 971.54 985.49 999.44 1013.39 1027.34" stroke="#0a0a0a" stroke-width="0.60" style="font-family:'Liberation Mono', 'DejaVu Sans Mono', monospace;font-size:22.60px;font-weight:bold;">- QTY: </tspan><tspan x="1042.01 1055.96" stroke="#0a0a0a" stroke-width="0.80" style="font-family:'Liberation Sans', 'DejaVu Sans', sans-serif;font-size:21.80px;font-weight:bold;">x1</tspan></text>
<g transform="translate(0.00 428.35)"><path d="M202.3 394 Q202.3 389.3 206.2 387.4 A348 348 0 0 1 511.80 387.4 Q515.70 389.3 515.70 394 L516.4 406.7 L532.8 406.7 L535.7 409 L536.3 412.9 A25.2 25.2 0 0 1 528.9 462.3 L506.30 462.80 L502.10 467.60 L496.70 473.00 L486.10 480.90 L475.50 487.80 L464.90 495.30 L454.20 500.00 L443.60 501.70 L433.00 501.40 L422.40 499.00 L411.70 495.30 L401.10 492.10 L390.50 489.10 L379.80 487.30 L369.20 486.50 L359.00 486.40 L359.00 486.40 L348.80 486.50 L338.20 487.30 L327.50 489.10 L316.90 492.10 L306.30 495.30 L295.60 499.00 L285.00 501.40 L274.40 501.70 L263.80 500.00 L253.10 495.30 L242.50 487.80 L231.90 480.90 L221.30 473.00 L215.90 467.60 L211.70 462.80 L189.8 462.3 A25.2 25.2 0 0 1 189.8 411.9 L201.9 411.9 Z" fill="#5d5d5d" stroke="#4a4a4a" stroke-width="0.8"/><path d="M263.5 363.0 L282.0 358.2 L282.0 362.6 L263.5 367.4 Z" fill="#2e2e2e"/><path d="M436.5 358.3 L455.0 363.1 L455.0 367.5 L436.5 362.7 Z" fill="#2e2e2e"/><rect x="349.8" y="486.5" width="19.2" height="6.6" rx="1.5" fill="#2e2e2e"/><path d="M207.3 396 Q207.3 392.6 210 391.2 A343.5 343.5 0 0 1 508.00 391.2 Q510.70 392.6 510.70 396 L507.00 425.00 L502.80 457.00 L500.70 465.00 L498.90 468.70 L491.40 474.00 L480.80 481.40 L470.20 488.40 L459.60 494.20 L448.90 497.40 L438.30 497.90 L427.70 496.30 L417.00 493.10 L406.40 490.00 L395.80 487.30 L385.20 485.70 L374.50 485.20 L359.00 485.20 L359.00 485.20 L343.50 485.20 L332.80 485.70 L322.20 487.30 L311.60 490.00 L301.00 493.10 L290.30 496.30 L279.70 497.90 L269.10 497.40 L258.40 494.20 L247.80 488.40 L237.20 481.40 L226.60 474.00 L219.10 468.70 L217.30 465.00 L215.20 457.00 L211.00 425.00 Z" fill="#d8d8d8" stroke="#555" stroke-width="0.7"/><circle cx="189.8" cy="437" r="12.7" fill="#e9e9e9"/><circle cx="189.8" cy="437" r="10.1" fill="#fff"/><circle cx="189.8" cy="437" r="11.5" fill="none" stroke="#3c3c3c" stroke-width="1" stroke-dasharray="2.2 1.6"/><line x1="243.1" y1="376.0" x2="243.1" y2="484.5" stroke="#666" stroke-width="1.0"/><line x1="474.9" y1="376.0" x2="474.9" y2="485.5" stroke="#666" stroke-width="1.0"/><circle cx="266.5" cy="419" r="16.5" fill="none" stroke="#5a5a5a" stroke-width="0.9" stroke-dasharray="2.4 1.9"/><circle cx="451.5" cy="419" r="16.5" fill="none" stroke="#5a5a5a" stroke-width="0.9" stroke-dasharray="2.4 1.9"/><path d="M232 381 Q227 383 227 390 L227 440 Q228 452 240 456" fill="none" stroke="#5a5a5a" stroke-width="0.9" stroke-dasharray="2.4 1.9"/><path d="M486.0 381 Q491.0 383 491.0 390 L491.0 440 Q490.0 452 478.0 456" fill="none" stroke="#5a5a5a" stroke-width="0.9" stroke-dasharray="2.4 1.9"/><path d="M216 392 Q290 362 359 361.5 Q430 362 503 392" fill="none" stroke="#5a5a5a" stroke-width="0.9" stroke-dasharray="2.4 1.9"/><path d="M262 371 L264 366.5 Q310 359.5 359 359.5 Q410 359.5 455 366.5 L457 371" fill="none" stroke="#5a5a5a" stroke-width="0.9" stroke-dasharray="2.4 1.9"/><path d="M470 453 Q452 456 450 474 Q449 488 438 495" fill="none" stroke="#5a5a5a" stroke-width="0.9" stroke-dasharray="2.4 1.9"/><path d="M248 453 Q266 456 268 474 Q269 488 280 495" fill="none" stroke="#5a5a5a" stroke-width="0.9" stroke-dasharray="2.4 1.9"/><circle cx="468.5" cy="416.5" r="6.5" fill="none" stroke="#5a5a5a" stroke-width="0.9" stroke-dasharray="2.4 1.9"/><g transform="translate(189.80 437.00)"><path d="M3.6 13.8 L-10.6 35.2 M5.8 15.2 L-8.4 36.6" stroke="#666" stroke-width="0.8" fill="none"/><path d="M-12.8 33.8 L-7.2 37.6 L-9.8 41.4 L-15.4 37.6 Z" fill="#eee" stroke="#555" stroke-width="0.8"/><path d="M12.6 -27 L12.6 4" stroke="#f0f0f0" stroke-width="1.7" stroke-dasharray="1.7 1.5" fill="none"/><path d="M11.2 -26.5 L12.6 -29.5 L14 -26.5" stroke="#555" stroke-width="0.7" fill="none"/></g><line x1="356.30" y1="356.50" x2="356.30" y2="485.30" stroke="#666" stroke-width="1.00"/><line x1="164.50" y1="239.90" x2="164.50" y2="436.00" stroke="#2c2c2c" stroke-width="1.00"/><line x1="553.50" y1="239.90" x2="553.50" y2="436.00" stroke="#2c2c2c" stroke-width="1.00"/><line x1="164.50" y1="250.50" x2="553.50" y2="250.50" stroke="#2c2c2c" stroke-width="1.00"/><path transform="translate(164.50 250.50) rotate(180.0)" d="M-9.8 -2.8 L0 0 L-9.8 2.8" fill="none" stroke="#2c2c2c" stroke-width="0.9"/><path transform="translate(553.50 250.50) rotate(0.0)" d="M-9.8 -2.8 L0 0 L-9.8 2.8" fill="none" stroke="#2c2c2c" stroke-width="0.9"/><text y="240.00" fill="#111" ><tspan x="323.80 338.55 353.30 370.76 382.80" style="font-family:'Liberation Sans', 'DejaVu Sans', sans-serif;font-size:19.40px;">168.2</tspan></text><line x1="206.50" y1="293.60" x2="206.50" y2="392.00" stroke="#2c2c2c" stroke-width="1.00"/><line x1="511.50" y1="293.60" x2="511.50" y2="392.00" stroke="#2c2c2c" stroke-width="1.00"/><line x1="206.50" y1="304.50" x2="511.50" y2="304.50" stroke="#2c2c2c" stroke-width="1.00"/><path transform="translate(206.50 304.50) rotate(180.0)" d="M-9.8 -2.8 L0 0 L-9.8 2.8" fill="none" stroke="#2c2c2c" stroke-width="0.9"/><path transform="translate(511.50 304.50) rotate(0.0)" d="M-9.8 -2.8 L0 0 L-9.8 2.8" fill="none" stroke="#2c2c2c" stroke-width="0.9"/><text y="293.40" fill="#111" ><tspan x="338.45 353.20 367.95" style="font-family:'Liberation Sans', 'DejaVu Sans', sans-serif;font-size:19.40px;">132</tspan></text><line x1="46.00" y1="351.50" x2="357.00" y2="351.50" stroke="#2c2c2c" stroke-width="1.00"/><line x1="46.00" y1="501.70" x2="272.00" y2="501.70" stroke="#2c2c2c" stroke-width="1.00"/><line x1="56.50" y1="351.50" x2="56.50" y2="501.70" stroke="#2c2c2c" stroke-width="1.00"/><path transform="translate(56.50 351.50) rotate(-90.0)" d="M-9.8 -2.8 L0 0 L-9.8 2.8" fill="none" stroke="#2c2c2c" stroke-width="0.9"/><path transform="translate(56.50 501.70) rotate(90.0)" d="M-9.8 -2.8 L0 0 L-9.8 2.8" fill="none" stroke="#2c2c2c" stroke-width="0.9"/><text y="0.00" fill="#111" transform="translate(46.40 424.60) rotate(-90)" ><tspan x="-14.77 -0.02" style="font-family:'Liberation Sans', 'DejaVu Sans', sans-serif;font-size:19.40px;">65</tspan></text><line x1="99.60" y1="356.30" x2="298.00" y2="356.30" stroke="#2c2c2c" stroke-width="1.00"/><line x1="99.60" y1="485.50" x2="344.00" y2="485.50" stroke="#2c2c2c" stroke-width="1.00"/><line x1="110.50" y1="356.30" x2="110.50" y2="485.50" stroke="#2c2c2c" stroke-width="1.00"/><path transform="translate(110.50 356.30) rotate(-90.0)" d="M-9.8 -2.8 L0 0 L-9.8 2.8" fill="none" stroke="#2c2c2c" stroke-width="0.9"/><path transform="translate(110.50 485.50) rotate(90.0)" d="M-9.8 -2.8 L0 0 L-9.8 2.8" fill="none" stroke="#2c2c2c" stroke-width="0.9"/><text y="0.00" fill="#111" transform="translate(100.40 419.20) rotate(-90)" ><tspan x="-29.52 -14.77 2.68 14.73" style="font-family:'Liberation Sans', 'DejaVu Sans', sans-serif;font-size:19.40px;">55.8</tspan></text></g><g transform="translate(0.00 434.50)"><line x1="99.60" y1="543.30" x2="225.00" y2="543.30" stroke="#2c2c2c" stroke-width="1.00"/><line x1="99.60" y1="586.00" x2="244.00" y2="586.00" stroke="#2c2c2c" stroke-width="1.00"/><line x1="110.50" y1="516.00" x2="110.50" y2="647.50" stroke="#2c2c2c" stroke-width="1.00"/><path transform="translate(110.50 543.30) rotate(90.0)" d="M-9.8 -2.8 L0 0 L-9.8 2.8" fill="none" stroke="#2c2c2c" stroke-width="0.9"/><path transform="translate(110.50 586.00) rotate(-90.0)" d="M-9.8 -2.8 L0 0 L-9.8 2.8" fill="none" stroke="#2c2c2c" stroke-width="0.9"/><text y="0.00" fill="#111" transform="translate(100.40 619.00) rotate(-90)" ><tspan x="-29.52 -14.77 2.68 14.73" style="font-family:'Liberation Sans', 'DejaVu Sans', sans-serif;font-size:19.40px;">18.4</tspan></text><rect x="164.4" y="545.1" width="389.2" height="13.2" fill="#5d5d5d"/><rect x="224.8" y="543" width="269.2" height="2.6" fill="#262626"/><path d="M206.4 558.3 L206.4 574.9 L244 585.9 L474.8 585.9 L512.4 574 L512.4 558.3 Z" fill="#d8d8d8"/><rect x="356.6" y="565.6" width="6.2" height="20.6" fill="#fff"/><rect x="263.3" y="545.1" width="18.2" height="13.2" fill="#262626"/><rect x="436.6" y="545.1" width="18.2" height="13.2" fill="#262626"/><line x1="206.8" y1="558.8" x2="206.8" y2="575.0" stroke="#666" stroke-width="0.8" stroke-dasharray="2 1.6" fill="none"/><line x1="221.5" y1="558.8" x2="221.5" y2="579.2" stroke="#666" stroke-width="0.8" stroke-dasharray="2 1.6" fill="none"/><line x1="248.5" y1="558.8" x2="248.5" y2="585.5" stroke="#666" stroke-width="0.8" stroke-dasharray="2 1.6" fill="none"/><line x1="297.8" y1="558.8" x2="297.8" y2="585.5" stroke="#666" stroke-width="0.8" stroke-dasharray="2 1.6" fill="none"/><line x1="420.5" y1="558.8" x2="420.5" y2="585.5" stroke="#666" stroke-width="0.8" stroke-dasharray="2 1.6" fill="none"/><line x1="468.6" y1="558.8" x2="468.6" y2="585.5" stroke="#666" stroke-width="0.8" stroke-dasharray="2 1.6" fill="none"/><line x1="495.8" y1="558.8" x2="495.8" y2="579.2" stroke="#666" stroke-width="0.8" stroke-dasharray="2 1.6" fill="none"/><line x1="498.3" y1="558.8" x2="498.3" y2="578.5" stroke="#666" stroke-width="0.8" stroke-dasharray="2 1.6" fill="none"/><line x1="505.4" y1="558.8" x2="505.4" y2="576.3" stroke="#666" stroke-width="0.8" stroke-dasharray="2 1.6" fill="none"/><line x1="511.9" y1="558.8" x2="511.9" y2="574.2" stroke="#666" stroke-width="0.8" stroke-dasharray="2 1.6" fill="none"/><path d="M206.4 574.9 L244 585.9 M474.8 585.9 L512.4 574" stroke="#666" stroke-width="0.8" stroke-dasharray="2 1.6" fill="none"/><path d="M212.7 558.6 L212.7 576.6 M506 558.6 L506 576" stroke="#555" stroke-width="0.9" fill="none"/><path d="M349.5 546.5 L349.5 555.5 L367.5 555.5 L367.5 546.5" fill="none" stroke="#444" stroke-width="0.7"/><path d="M352 554.5 L366 554.5" stroke="#333" stroke-width="1.4" stroke-dasharray="1.6 1.4"/><g transform="translate(0.00 0)"><g stroke="#1c1c1c" stroke-width="1" fill="none"><path d="M177.5 543.4 L178.7 557.6" stroke-dasharray="2.2 1.2"/><path d="M181.0 543.4 L182.2 557.6" stroke-dasharray="2.2 1.2"/><path d="M184.5 543.4 L185.7 557.6" stroke-dasharray="2.2 1.2"/><path d="M188.0 543.4 L189.2 557.6" stroke-dasharray="2.2 1.2"/><path d="M191.5 543.4 L192.7 557.6" stroke-dasharray="2.2 1.2"/><path d="M195.0 543.4 L196.2 557.6" stroke-dasharray="2.2 1.2"/><path d="M198.5 543.4 L199.7 557.6" stroke-dasharray="2.2 1.2"/><path d="M176.5 546 L203 546 M176.5 550.3 L203 550.3 M176.5 554.5 L190 554.5" stroke-dasharray="2.4 1.3" stroke-width="0.9"/><circle cx="183.2" cy="559.4" r="1.7" fill="#444" stroke="none"/><path d="M200.8 541.6 L203 538.6 L205.2 540.2 M202 543 L203.5 558" stroke-width="0.9"/></g><path d="M190.6 555.3 L198 555.3" stroke="#e4e4e4" stroke-width="1.4" fill="none"/></g></g><text y="1085.40" fill="#0a0a0a" ><tspan x="188.39 202.34 216.29 230.24 244.19" stroke="#0a0a0a" stroke-width="0.60" style="font-family:'Liberation Mono', 'DejaVu Sans Mono', monospace;font-size:22.60px;font-weight:bold;">WVA: </tspan><tspan x="258.86 272.81 286.76 300.71 314.66 327.89" stroke="#0a0a0a" stroke-width="0.80" style="font-family:'Liberation Sans', 'DejaVu Sans', sans-serif;font-size:21.80px;font-weight:bold;">23578 </tspan><tspan x="341.84 355.79 369.74 383.69 397.64 411.59 425.54" stroke="#0a0a0a" stroke-width="0.60" style="font-family:'Liberation Mono', 'DejaVu Sans Mono', monospace;font-size:22.60px;font-weight:bold;">- QTY: </tspan><tspan x="440.21 454.16" stroke="#0a0a0a" stroke-width="0.80" style="font-family:'Liberation Sans', 'DejaVu Sans', sans-serif;font-size:21.80px;font-weight:bold;">x1</tspan></text>
<g transform="translate(594.25 428.35)"><g transform="translate(718.00 0) scale(-1 1)"><path d="M202.3 394 Q202.3 389.3 206.2 387.4 A348 348 0 0 1 511.80 387.4 Q515.70 389.3 515.70 394 L516.4 406.7 L532.8 406.7 L535.7 409 L536.3 412.9 A25.2 25.2 0 0 1 528.9 462.3 L506.30 462.80 L502.10 467.60 L496.70 473.00 L486.10 480.90 L475.50 487.80 L464.90 495.30 L454.20 500.00 L443.60 501.70 L433.00 501.40 L422.40 499.00 L411.70 495.30 L401.10 492.10 L390.50 489.10 L379.80 487.30 L369.20 486.50 L359.00 486.40 L359.00 486.40 L348.80 486.50 L338.20 487.30 L327.50 489.10 L316.90 492.10 L306.30 495.30 L295.60 499.00 L285.00 501.40 L274.40 501.70 L263.80 500.00 L253.10 495.30 L242.50 487.80 L231.90 480.90 L221.30 473.00 L215.90 467.60 L211.70 462.80 L189.8 462.3 A25.2 25.2 0 0 1 189.8 411.9 L201.9 411.9 Z" fill="#5d5d5d" stroke="#4a4a4a" stroke-width="0.8"/><path d="M263.5 363.0 L282.0 358.2 L282.0 362.6 L263.5 367.4 Z" fill="#2e2e2e"/><path d="M436.5 358.3 L455.0 363.1 L455.0 367.5 L436.5 362.7 Z" fill="#2e2e2e"/><rect x="349.8" y="486.5" width="19.2" height="6.6" rx="1.5" fill="#2e2e2e"/><path d="M207.3 396 Q207.3 392.6 210 391.2 A343.5 343.5 0 0 1 508.00 391.2 Q510.70 392.6 510.70 396 L507.00 425.00 L502.80 457.00 L500.70 465.00 L498.90 468.70 L491.40 474.00 L480.80 481.40 L470.20 488.40 L459.60 494.20 L448.90 497.40 L438.30 497.90 L427.70 496.30 L417.00 493.10 L406.40 490.00 L395.80 487.30 L385.20 485.70 L374.50 485.20 L359.00 485.20 L359.00 485.20 L343.50 485.20 L332.80 485.70 L322.20 487.30 L311.60 490.00 L301.00 493.10 L290.30 496.30 L279.70 497.90 L269.10 497.40 L258.40 494.20 L247.80 488.40 L237.20 481.40 L226.60 474.00 L219.10 468.70 L217.30 465.00 L215.20 457.00 L211.00 425.00 Z" fill="#d8d8d8" stroke="#555" stroke-width="0.7"/><circle cx="189.8" cy="437" r="12.7" fill="#e9e9e9"/><circle cx="189.8" cy="437" r="10.1" fill="#fff"/><circle cx="189.8" cy="437" r="11.5" fill="none" stroke="#3c3c3c" stroke-width="1" stroke-dasharray="2.2 1.6"/><line x1="243.1" y1="376.0" x2="243.1" y2="484.5" stroke="#666" stroke-width="1.0"/><line x1="474.9" y1="376.0" x2="474.9" y2="485.5" stroke="#666" stroke-width="1.0"/><circle cx="266.5" cy="419" r="16.5" fill="none" stroke="#5a5a5a" stroke-width="0.9" stroke-dasharray="2.4 1.9"/><circle cx="451.5" cy="419" r="16.5" fill="none" stroke="#5a5a5a" stroke-width="0.9" stroke-dasharray="2.4 1.9"/><path d="M232 381 Q227 383 227 390 L227 440 Q228 452 240 456" fill="none" stroke="#5a5a5a" stroke-width="0.9" stroke-dasharray="2.4 1.9"/><path d="M486.0 381 Q491.0 383 491.0 390 L491.0 440 Q490.0 452 478.0 456" fill="none" stroke="#5a5a5a" stroke-width="0.9" stroke-dasharray="2.4 1.9"/><path d="M216 392 Q290 362 359 361.5 Q430 362 503 392" fill="none" stroke="#5a5a5a" stroke-width="0.9" stroke-dasharray="2.4 1.9"/><path d="M262 371 L264 366.5 Q310 359.5 359 359.5 Q410 359.5 455 366.5 L457 371" fill="none" stroke="#5a5a5a" stroke-width="0.9" stroke-dasharray="2.4 1.9"/><path d="M470 453 Q452 456 450 474 Q449 488 438 495" fill="none" stroke="#5a5a5a" stroke-width="0.9" stroke-dasharray="2.4 1.9"/><path d="M248 453 Q266 456 268 474 Q269 488 280 495" fill="none" stroke="#5a5a5a" stroke-width="0.9" stroke-dasharray="2.4 1.9"/></g><circle cx="468.5" cy="416.5" r="6.5" fill="none" stroke="#5a5a5a" stroke-width="0.9" stroke-dasharray="2.4 1.9"/><g transform="translate(528.20 437.00)"><path d="M3.6 13.8 L-10.6 35.2 M5.8 15.2 L-8.4 36.6" stroke="#666" stroke-width="0.8" fill="none"/><path d="M-12.8 33.8 L-7.2 37.6 L-9.8 41.4 L-15.4 37.6 Z" fill="#eee" stroke="#555" stroke-width="0.8"/><path d="M12.6 -27 L12.6 4" stroke="#f0f0f0" stroke-width="1.7" stroke-dasharray="1.7 1.5" fill="none"/><path d="M11.2 -26.5 L12.6 -29.5 L14 -26.5" stroke="#555" stroke-width="0.7" fill="none"/></g><line x1="356.30" y1="356.50" x2="356.30" y2="485.30" stroke="#666" stroke-width="1.00"/><line x1="164.50" y1="239.90" x2="164.50" y2="436.00" stroke="#2c2c2c" stroke-width="1.00"/><line x1="553.50" y1="239.90" x2="553.50" y2="436.00" stroke="#2c2c2c" stroke-width="1.00"/><line x1="164.50" y1="250.50" x2="553.50" y2="250.50" stroke="#2c2c2c" stroke-width="1.00"/><path transform="translate(164.50 250.50) rotate(180.0)" d="M-9.8 -2.8 L0 0 L-9.8 2.8" fill="none" stroke="#2c2c2c" stroke-width="0.9"/><path transform="translate(553.50 250.50) rotate(0.0)" d="M-9.8 -2.8 L0 0 L-9.8 2.8" fill="none" stroke="#2c2c2c" stroke-width="0.9"/><text y="240.00" fill="#111" ><tspan x="323.80 338.55 353.30 370.76 382.80" style="font-family:'Liberation Sans', 'DejaVu Sans', sans-serif;font-size:19.40px;">168.2</tspan></text><line x1="206.50" y1="293.60" x2="206.50" y2="392.00" stroke="#2c2c2c" stroke-width="1.00"/><line x1="511.50" y1="293.60" x2="511.50" y2="392.00" stroke="#2c2c2c" stroke-width="1.00"/><line x1="206.50" y1="304.50" x2="511.50" y2="304.50" stroke="#2c2c2c" stroke-width="1.00"/><path transform="translate(206.50 304.50) rotate(180.0)" d="M-9.8 -2.8 L0 0 L-9.8 2.8" fill="none" stroke="#2c2c2c" stroke-width="0.9"/><path transform="translate(511.50 304.50) rotate(0.0)" d="M-9.8 -2.8 L0 0 L-9.8 2.8" fill="none" stroke="#2c2c2c" stroke-width="0.9"/><text y="293.40" fill="#111" ><tspan x="338.45 353.20 367.95" style="font-family:'Liberation Sans', 'DejaVu Sans', sans-serif;font-size:19.40px;">132</tspan></text><line x1="46.00" y1="351.50" x2="357.00" y2="351.50" stroke="#2c2c2c" stroke-width="1.00"/><line x1="46.00" y1="501.70" x2="272.00" y2="501.70" stroke="#2c2c2c" stroke-width="1.00"/><line x1="56.50" y1="351.50" x2="56.50" y2="501.70" stroke="#2c2c2c" stroke-width="1.00"/><path transform="translate(56.50 351.50) rotate(-90.0)" d="M-9.8 -2.8 L0 0 L-9.8 2.8" fill="none" stroke="#2c2c2c" stroke-width="0.9"/><path transform="translate(56.50 501.70) rotate(90.0)" d="M-9.8 -2.8 L0 0 L-9.8 2.8" fill="none" stroke="#2c2c2c" stroke-width="0.9"/><text y="0.00" fill="#111" transform="translate(46.40 424.60) rotate(-90)" ><tspan x="-14.77 -0.02" style="font-family:'Liberation Sans', 'DejaVu Sans', sans-serif;font-size:19.40px;">65</tspan></text><line x1="99.60" y1="356.30" x2="298.00" y2="356.30" stroke="#2c2c2c" stroke-width="1.00"/><line x1="99.60" y1="485.50" x2="344.00" y2="485.50" stroke="#2c2c2c" stroke-width="1.00"/><line x1="110.50" y1="356.30" x2="110.50" y2="485.50" stroke="#2c2c2c" stroke-width="1.00"/><path transform="translate(110.50 356.30) rotate(-90.0)" d="M-9.8 -2.8 L0 0 L-9.8 2.8" fill="none" stroke="#2c2c2c" stroke-width="0.9"/><path transform="translate(110.50 485.50) rotate(90.0)" d="M-9.8 -2.8 L0 0 L-9.8 2.8" fill="none" stroke="#2c2c2c" stroke-width="0.9"/><text y="0.00" fill="#111" transform="translate(100.40 419.20) rotate(-90)" ><tspan x="-29.52 -14.77 2.68 14.73" style="font-family:'Liberation Sans', 'DejaVu Sans', sans-serif;font-size:19.40px;">55.8</tspan></text></g><g transform="translate(594.25 434.50)"><line x1="99.60" y1="543.30" x2="225.00" y2="543.30" stroke="#2c2c2c" stroke-width="1.00"/><line x1="99.60" y1="586.00" x2="244.00" y2="586.00" stroke="#2c2c2c" stroke-width="1.00"/><line x1="110.50" y1="516.00" x2="110.50" y2="647.50" stroke="#2c2c2c" stroke-width="1.00"/><path transform="translate(110.50 543.30) rotate(90.0)" d="M-9.8 -2.8 L0 0 L-9.8 2.8" fill="none" stroke="#2c2c2c" stroke-width="0.9"/><path transform="translate(110.50 586.00) rotate(-90.0)" d="M-9.8 -2.8 L0 0 L-9.8 2.8" fill="none" stroke="#2c2c2c" stroke-width="0.9"/><text y="0.00" fill="#111" transform="translate(100.40 619.00) rotate(-90)" ><tspan x="-29.52 -14.77 2.68 14.73" style="font-family:'Liberation Sans', 'DejaVu Sans', sans-serif;font-size:19.40px;">18.4</tspan></text><g transform="translate(718.00 0) scale(-1 1)"><rect x="164.4" y="545.1" width="389.2" height="13.2" fill="#5d5d5d"/><rect x="224.8" y="543" width="269.2" height="2.6" fill="#262626"/><path d="M206.4 558.3 L206.4 574.9 L244 585.9 L474.8 585.9 L512.4 574 L512.4 558.3 Z" fill="#d8d8d8"/><rect x="356.6" y="565.6" width="6.2" height="20.6" fill="#fff"/><rect x="263.3" y="545.1" width="18.2" height="13.2" fill="#262626"/><rect x="436.6" y="545.1" width="18.2" height="13.2" fill="#262626"/><line x1="206.8" y1="558.8" x2="206.8" y2="575.0" stroke="#666" stroke-width="0.8" stroke-dasharray="2 1.6" fill="none"/><line x1="221.5" y1="558.8" x2="221.5" y2="579.2" stroke="#666" stroke-width="0.8" stroke-dasharray="2 1.6" fill="none"/><line x1="248.5" y1="558.8" x2="248.5" y2="585.5" stroke="#666" stroke-width="0.8" stroke-dasharray="2 1.6" fill="none"/><line x1="297.8" y1="558.8" x2="297.8" y2="585.5" stroke="#666" stroke-width="0.8" stroke-dasharray="2 1.6" fill="none"/><line x1="420.5" y1="558.8" x2="420.5" y2="585.5" stroke="#666" stroke-width="0.8" stroke-dasharray="2 1.6" fill="none"/><line x1="468.6" y1="558.8" x2="468.6" y2="585.5" stroke="#666" stroke-width="0.8" stroke-dasharray="2 1.6" fill="none"/><line x1="495.8" y1="558.8" x2="495.8" y2="579.2" stroke="#666" stroke-width="0.8" stroke-dasharray="2 1.6" fill="none"/><line x1="498.3" y1="558.8" x2="498.3" y2="578.5" stroke="#666" stroke-width="0.8" stroke-dasharray="2 1.6" fill="none"/><line x1="505.4" y1="558.8" x2="505.4" y2="576.3" stroke="#666" stroke-width="0.8" stroke-dasharray="2 1.6" fill="none"/><line x1="511.9" y1="558.8" x2="511.9" y2="574.2" stroke="#666" stroke-width="0.8" stroke-dasharray="2 1.6" fill="none"/><path d="M206.4 574.9 L244 585.9 M474.8 585.9 L512.4 574" stroke="#666" stroke-width="0.8" stroke-dasharray="2 1.6" fill="none"/><path d="M212.7 558.6 L212.7 576.6 M506 558.6 L506 576" stroke="#555" stroke-width="0.9" fill="none"/><path d="M349.5 546.5 L349.5 555.5 L367.5 555.5 L367.5 546.5" fill="none" stroke="#444" stroke-width="0.7"/><path d="M352 554.5 L366 554.5" stroke="#333" stroke-width="1.4" stroke-dasharray="1.6 1.4"/></g><g transform="translate(338.40 0)"><g stroke="#1c1c1c" stroke-width="1" fill="none"><path d="M177.5 543.4 L178.7 557.6" stroke-dasharray="2.2 1.2"/><path d="M181.0 543.4 L182.2 557.6" stroke-dasharray="2.2 1.2"/><path d="M184.5 543.4 L185.7 557.6" stroke-dasharray="2.2 1.2"/><path d="M188.0 543.4 L189.2 557.6" stroke-dasharray="2.2 1.2"/><path d="M191.5 543.4 L192.7 557.6" stroke-dasharray="2.2 1.2"/><path d="M195.0 543.4 L196.2 557.6" stroke-dasharray="2.2 1.2"/><path d="M198.5 543.4 L199.7 557.6" stroke-dasharray="2.2 1.2"/><path d="M176.5 546 L203 546 M176.5 550.3 L203 550.3 M176.5 554.5 L190 554.5" stroke-dasharray="2.4 1.3" stroke-width="0.9"/><circle cx="183.2" cy="559.4" r="1.7" fill="#444" stroke="none"/><path d="M200.8 541.6 L203 538.6 L205.2 540.2 M202 543 L203.5 558" stroke-width="0.9"/></g><path d="M190.6 555.3 L198 555.3" stroke="#e4e4e4" stroke-width="1.4" fill="none"/></g></g><text y="1085.40" fill="#0a0a0a" ><tspan x="790.19 804.14 818.09 832.04 845.99" stroke="#0a0a0a" stroke-width="0.60" style="font-family:'Liberation Mono', 'DejaVu Sans Mono', monospace;font-size:22.60px;font-weight:bold;">WVA: </tspan><tspan x="860.66 874.61 888.56 902.51 916.46 929.69" stroke="#0a0a0a" stroke-width="0.80" style="font-family:'Liberation Sans', 'DejaVu Sans', sans-serif;font-size:21.80px;font-weight:bold;">23577 </tspan><tspan x="943.64 957.59 971.54 985.49 999.44 1013.39 1027.34" stroke="#0a0a0a" stroke-width="0.60" style="font-family:'Liberation Mono', 'DejaVu Sans Mono', monospace;font-size:22.60px;font-weight:bold;">- QTY: </tspan><tspan x="1042.01 1055.96" stroke="#0a0a0a" stroke-width="0.80" style="font-family:'Liberation Sans', 'DejaVu Sans', sans-serif;font-size:21.80px;font-weight:bold;">x1</tspan></text>
<path d="M501.75 373.82 A411.75 411.75 0 1 0 558.03 325.91 L705.32 589.45 A116.00 116.00 0 1 1 694.49 718.69 Z M495.28 539.55 A324.50 324.50 0 1 0 675.90 360.54 L736.26 468.54 A202.50 202.50 0 1 1 618.98 760.89 Z" fill="#e91919" fill-opacity="0.09" fill-rule="evenodd"/>
<g fill="none" stroke="#3a3a3a" stroke-width="1.2">
<line x1="413.5" y1="28" x2="413.5" y2="221"/><line x1="800" y1="28" x2="800" y2="221"/><line x1="1230.5" y1="28" x2="1230.5" y2="1104"/>
</g>
<line x1="27" y1="221" x2="1573" y2="221" stroke="#000" stroke-width="2"/>
<rect x="27.6" y="27.6" width="1544.8" height="1076.8" fill="none" stroke="#000" stroke-width="3.6" stroke-linejoin="round"/>
<rect x="0.5" y="0.5" width="1599" height="1131" fill="none" stroke="#808080" stroke-width="1"/>
</svg></body></html>
